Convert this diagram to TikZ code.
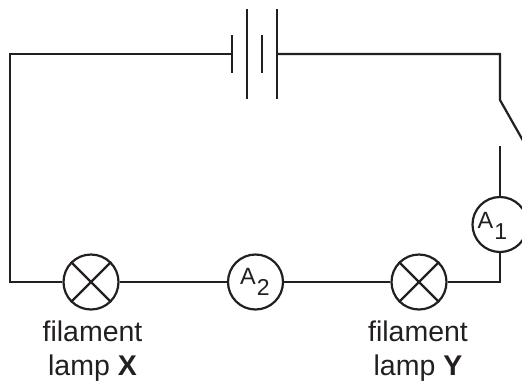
\documentclass[tikz,border=0pt]{standalone}
\usepackage{fontspec}
\setmainfont{Liberation Sans}
\definecolor{ink}{HTML}{231F20}
\begin{document}
\begin{tikzpicture}[x=1pt,y=-1pt,
  wire/.style={draw=ink, line width=2.2pt},
  comp/.style={circle, draw=ink, line width=2.2pt, minimum size=55pt, inner sep=0pt},
  meter/.style={anchor=base west, inner sep=0pt, text=ink, font=\fontsize{23.5}{23.5}\selectfont},
  lbl/.style={font=\fontsize{28.5}{34}\selectfont, align=center, anchor=base, text=ink, inner sep=0pt}]
\useasboundingbox (0,0) rectangle (522,381);
\clip (0,0) rectangle (522,381);

% components
\node[comp] (lampX) at (91,282) {};
\node[comp] (ammA2) at (255.5,282) {};
\node[comp] (lampY) at (419,282) {};
\node[comp] (ammA1) at (500,224.5) {};

% lamp crosses
\draw[wire] (lampX.north east) -- (lampX.south west) (lampX.north west) -- (lampX.south east);
\draw[wire] (lampY.north east) -- (lampY.south west) (lampY.north west) -- (lampY.south east);

% meter texts
\node[meter] (tA2) at (240,284.5) {A\kern1pt\raisebox{-11pt}{\fontsize{23}{23}\selectfont 2}};
\node[meter] (tA1) at (477.5,228.5) {A\kern1pt\raisebox{-11pt}{\fontsize{23}{23}\selectfont 1}};

% corner and terminal coordinates
\coordinate (cBL) at (10,282);
\coordinate (cTL) at (10,54);
\coordinate (batL) at (231.7,54);
\coordinate (batR) at (277.3,54);
\coordinate (cTR) at (500,54);
\coordinate (swPivot) at (500,100);
\coordinate (swEnd) at (530,153);
\coordinate (swContact) at (500,146);
\coordinate (cBR) at (500,282);

% battery plates
\draw[wire] (231.7,35) -- (231.7,73);
\draw[wire] (246.7,9) -- (246.7,99);
\draw[wire] (261.7,35) -- (261.7,73);
\draw[wire] (277.3,9) -- (277.3,99);

% wires
\draw[wire] (lampX.west) -- (cBL) -- (cTL) -- (batL);
\draw[wire] (batR) -- (cTR) -- (swPivot) -- (swEnd);
\draw[wire] (swContact) -- (ammA1.north);
\draw[wire] (ammA1.south) -- (cBR) -- (lampY.east);
\draw[wire] (lampY.west) -- (ammA2.east);
\draw[wire] (ammA2.west) -- (lampX.east);

% labels
\node[lbl] (labX) at (92.5,375) {filament\\lamp \textbf{X}};
\node[lbl] (labY) at (418,375) {filament\\lamp \textbf{Y}};
\end{tikzpicture}
\end{document}
